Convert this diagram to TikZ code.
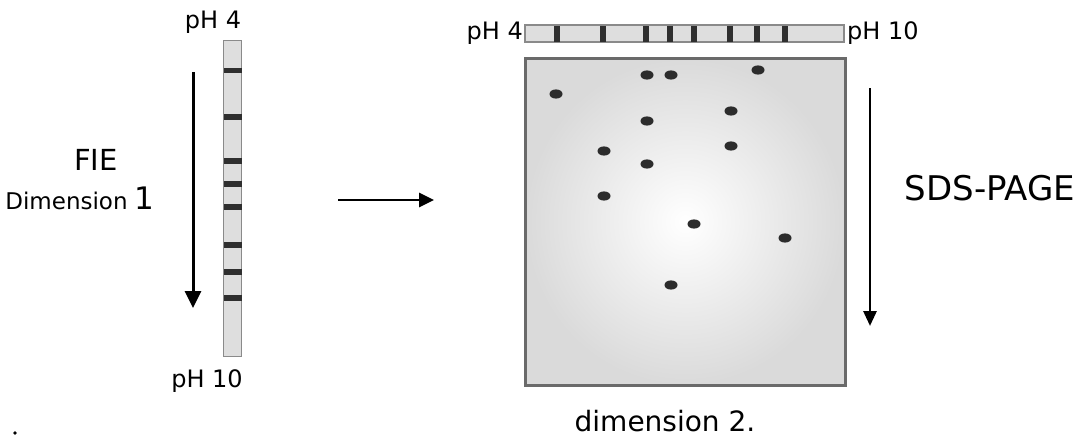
\documentclass[tikz,border=0pt]{standalone}
\usepackage{fontspec}
\setmainfont{DejaVu Sans}
\usetikzlibrary{arrows.meta}
\definecolor{bandcol}{HTML}{2F2F2F}
\definecolor{stripfill}{HTML}{DEDEDE}
\definecolor{stripedge}{HTML}{8A8A8A}
\definecolor{spotcol}{HTML}{2C2C2C}
\definecolor{gelout}{HTML}{DADADA}
\definecolor{geledge}{HTML}{6A6A6A}
\tikzset{
  strip/.style={draw=stripedge, fill=stripfill, line width=1.6pt, inner sep=0pt},
  band/.style={fill=bandcol},
  spot/.style={fill=spotcol},
  lbl/.style={inner sep=0pt, font=\fontsize{24}{27}\selectfont},
  flow/.style={line width=2.8pt, -{Triangle[width=14pt,length=15pt]}},
}
\begin{document}
\begin{tikzpicture}[x=1pt,y=-1pt]
\useasboundingbox (0,0) rectangle (1085,437);

% first dimension: vertical IEF strip
\node[strip, minimum width=18, minimum height=316] (vstrip) at (232.5,198.5) {};
\foreach \y in {70.5,117,161,184,207,245,272,298}
  \fill[band] (223.5,\y-2.8) rectangle (241.5,\y+2.8);
\node[lbl] (vph4) at (213,22) {pH 4};
\node[lbl] (vph10) at (207,381) {pH 10};

\coordinate (a1s) at (193,72);
\coordinate (a1e) at (193,308);
\draw[line width=3pt, -{Triangle[width=16pt,length=17pt]}] (a1s) -- (a1e);

\node[inner sep=0pt, font=\fontsize{29}{32}\selectfont] (fie) at (96,160) {FIE};
\node[inner sep=0pt, anchor=base] (dim1) at (80,209)
  {\fontsize{23}{26}\selectfont Dimension \fontsize{31}{33}\selectfont 1};

% transfer arrow
\coordinate (a2s) at (338,200);
\coordinate (a2e) at (434,200);
\draw[flow] (a2s) -- (a2e);

% second dimension: horizontal strip on top of the gel
\node[strip, minimum width=319, minimum height=17] (hstrip) at (684.5,33.5) {};
\foreach \x in {557,603,646,670,694,730,757,785}
  \fill[band] (\x-2.8,25.5) rectangle (\x+2.8,41.5);
\node[lbl, anchor=east] (hph4) at (523,33) {pH 4};
\node[lbl, anchor=west] (hph10) at (847,33) {pH 10};

% gel slab
\shade[inner color=white, outer color=gelout] (525,58) rectangle (845,385);
\node[draw=geledge, line width=3pt, minimum width=320, minimum height=327, inner sep=0pt] (gel) at (685,221.5) {};

% protein spots
\foreach \x/\y in {556/94, 647/75, 671/75, 758/70, 731/111, 647/121, 604/151,
                   731/146, 647/164, 604/196, 694/224, 785/238, 671/285}
  \fill[spot] (\x,\y) ellipse [x radius=6.5, y radius=4.6];

\coordinate (a3s) at (870,88);
\coordinate (a3e) at (870,326);
\draw[line width=2.8pt, -{Triangle[width=13pt,length=15pt]}] (a3s) -- (a3e);
\node[inner sep=0pt, font=\fontsize{34}{37}\selectfont] (sds) at (990,188) {SDS-PAGE};

\node[inner sep=0pt, font=\fontsize{28}{31}\selectfont] (dim2) at (665,421) {dimension 2.};

\fill (15,433) circle [radius=1.9];
\end{tikzpicture}
\end{document}
